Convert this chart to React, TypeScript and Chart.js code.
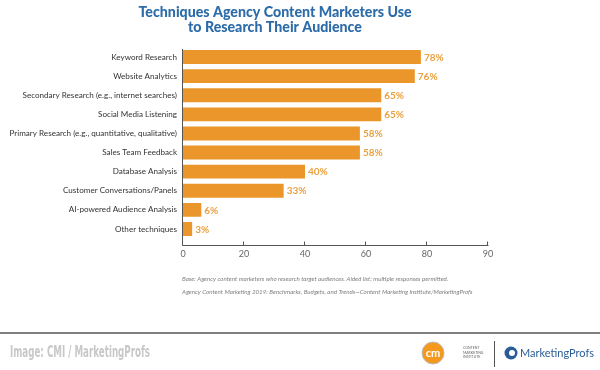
import React, { useEffect, useRef } from "react";
import { Chart, registerables } from "chart.js";

Chart.register(...registerables);

const categories = [
  "Keyword Research",
  "Website Analytics",
  "Secondary Research (e.g., internet searches)",
  "Social Media Listening",
  "Primary Research (e.g., quantitative, qualitative)",
  "Sales Team Feedback",
  "Database Analysis",
  "Customer Conversations/Panels",
  "AI-powered Audience Analysis",
  "Other techniques",
];
const values = [78, 76, 65, 65, 58, 58, 40, 33, 6, 3];
const tickValues = [0, 20, 40, 60, 80, 100];
const tickLabels = ["0", "20", "40", "60", "80", "90"];
const titleLines = ["Techniques Agency Content Marketers Use", "to Research Their Audience"];
const footnotes = [
  "Base: Agency content marketers who research target audiences. Aided list; multiple responses permitted.",
  "Agency Content Marketing 2019: Benchmarks, Budgets, and Trends\u2014Content Marketing Institute/MarketingProfs",
];
const creditText = "Image: CMI / MarketingProfs";

const BAR = "#EA962B";
const LABEL = "#EBA040";
const BLUE = "#2D6CA8";
const FONT = "Lato, 'Noto Sans', sans-serif";

export default function App() {
  const ref = useRef<HTMLCanvasElement | null>(null);
  useEffect(() => {
    if (!ref.current) return;
    const decor = {
      id: "decor",
      afterDatasetsDraw(chart: any) {
        const ctx = chart.ctx;
        const area = chart.chartArea;
        const xs = chart.scales.x;
        ctx.save();
        const meta = chart.getDatasetMeta(0);
        ctx.font = `bold 10px ${FONT}`;
        ctx.fillStyle = LABEL;
        ctx.textAlign = "left";
        ctx.textBaseline = "middle";
        meta.data.forEach((bar: any, i: number) => {
          ctx.fillText(`${values[i]}%`, bar.x + 3, bar.y + 0.5);
        });
        ctx.strokeStyle = "#555";
        ctx.lineWidth = 1;
        const axisY = 245.5;
        const x0 = Math.round(area.left) - 0.5;
        ctx.beginPath();
        ctx.moveTo(x0, 49);
        ctx.lineTo(x0, axisY);
        ctx.lineTo(Math.round(area.right) + 0.5, axisY);
        ctx.stroke();
        tickValues.forEach((v) => {
          const px = Math.round(xs.getPixelForValue(v)) - 0.5;
          ctx.beginPath();
          ctx.moveTo(px, axisY - 4);
          ctx.lineTo(px, axisY);
          ctx.stroke();
        });
        ctx.restore();
      },
      afterDraw(chart: any) {
        const ctx = chart.ctx;
        ctx.save();
        ctx.fillStyle = BLUE;
        ctx.font = `900 14.2px ${FONT}`;
        ctx.textAlign = "center";
        ctx.textBaseline = "middle";
        ctx.fillText(titleLines[0], 275, 12);
        ctx.fillText(titleLines[1], 275, 27);
        ctx.fillStyle = "#808080";
        ctx.font = `italic 6.2px ${FONT}`;
        ctx.textAlign = "left";
        ctx.fillText(footnotes[0], 182, 279);
        ctx.fillText(footnotes[1], 182, 292);
        ctx.strokeStyle = "#555";
        ctx.lineWidth = 1.5;
        ctx.beginPath();
        ctx.moveTo(0, 333);
        ctx.lineTo(600, 333);
        ctx.stroke();
        ctx.fillStyle = "#c8c8c8";
        ctx.font = `bold 15px 'DejaVu Sans Condensed', sans-serif`;
        ctx.fillText(creditText, 10, 353, 140);
        ctx.fillStyle = "#F39A1E";
        ctx.beginPath();
        ctx.arc(433, 353, 11, 0, Math.PI * 2);
        ctx.fill();
        ctx.strokeStyle = "#bbb";
        ctx.lineWidth = 1;
        ctx.stroke();
        ctx.fillStyle = "#fff";
        ctx.font = `bold 11px ${FONT}`;
        ctx.textAlign = "center";
        ctx.fillText("cm", 433, 353);
        ctx.fillStyle = "#666";
        ctx.font = `3.5px ${FONT}`;
        ctx.textAlign = "left";
        ctx.fillText("CONTENT", 463, 348);
        ctx.fillText("MARKETING", 463, 352.5);
        ctx.fillText("INSTITUTE", 463, 357);
        ctx.strokeStyle = "#555";
        ctx.lineWidth = 1;
        ctx.beginPath();
        ctx.moveTo(494.5, 341);
        ctx.lineTo(494.5, 367);
        ctx.stroke();
        ctx.fillStyle = "#2A5C95";
        ctx.beginPath();
        ctx.arc(511, 353, 6.5, 0, Math.PI * 2);
        ctx.fill();
        ctx.fillStyle = "#fff";
        ctx.beginPath();
        ctx.arc(512, 353, 3, 0, Math.PI * 2);
        ctx.fill();
        ctx.fillStyle = "#2A5C95";
        ctx.font = `11px ${FONT}`;
        ctx.fillText("MarketingProfs", 520, 353.5, 74);
        ctx.restore();
      },
    };
    const chart = new Chart(ref.current, {
      type: "bar",
      data: {
        labels: categories,
        datasets: [
          {
            data: values,
            backgroundColor: BAR,
            borderWidth: 0,
            barPercentage: 0.73,
            categoryPercentage: 1,
          },
        ],
      },
      options: {
        indexAxis: "y",
        animation: false,
        responsive: false,
        layout: { padding: { left: 0, right: 112, top: 47.5, bottom: 111.5 } },
        plugins: { legend: { display: false }, tooltip: { enabled: false }, title: { display: false } },
        scales: {
          x: {
            min: 0,
            max: 100,
            border: { display: false },
            grid: { display: false, drawTicks: false },
            afterBuildTicks(scale: any) {
              scale.ticks = tickValues.map((v) => ({ value: v }));
            },
            afterFit(scale: any) {
              scale.height = 20;
            },
            ticks: {
              padding: 10,
              color: "#666",
              font: { family: FONT, size: 9 },
              callback: (v: any) => tickLabels[tickValues.indexOf(Number(v))] ?? "",
            },
          },
          y: {
            border: { display: false },
            grid: { display: false, drawTicks: false },
            afterFit(scale: any) {
              scale.width = 183;
            },
            ticks: {
              padding: 6,
              color: "#333",
              font: { family: FONT, size: 8.1 },
            },
          },
        },
      },
      plugins: [decor],
    });
    return () => chart.destroy();
  }, []);
  return (
    <div style={{ position: "absolute", left: 0, top: 0, width: 600, height: 370, background: "#fff" }}>
      <canvas ref={ref} width={600} height={370} style={{ width: 600, height: 370 }} />
    </div>
  );
}
